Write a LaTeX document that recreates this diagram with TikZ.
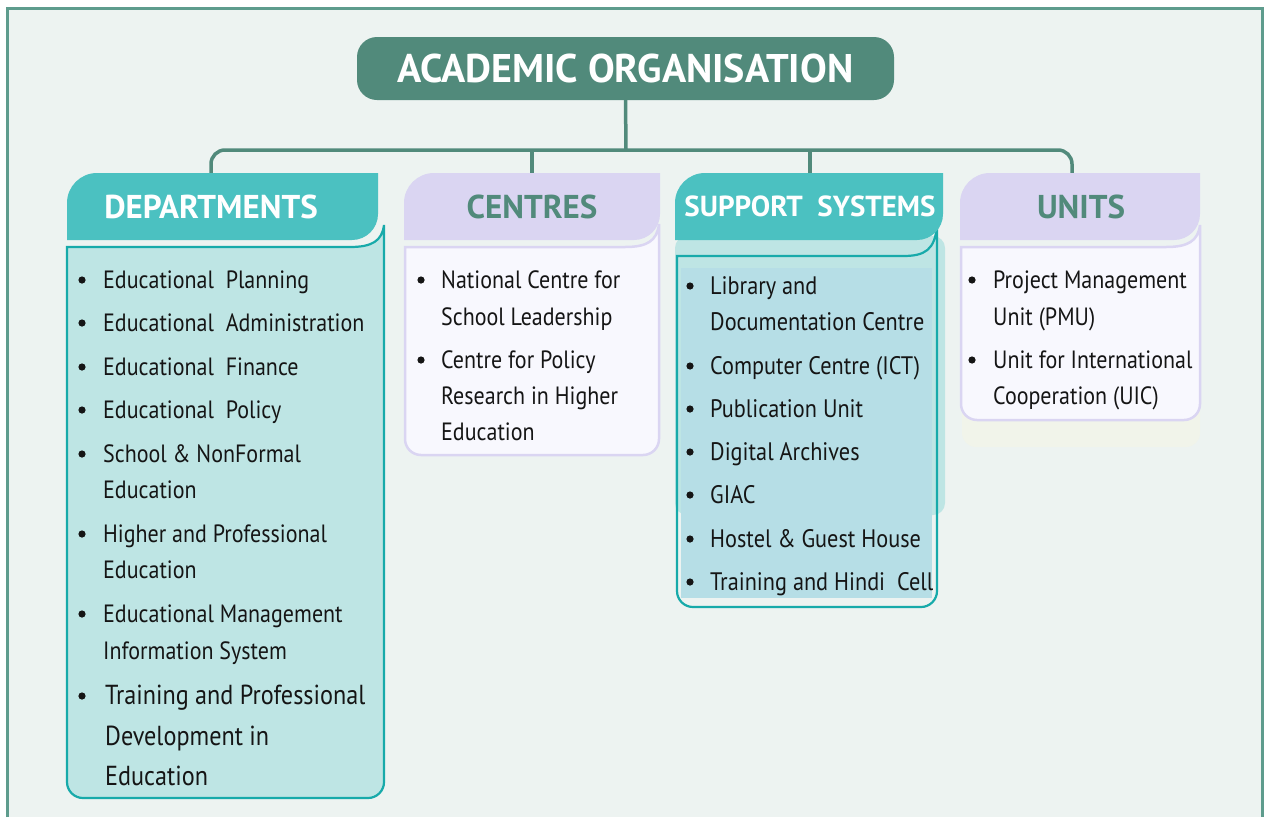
\documentclass[tikz,border=0pt]{standalone}
\usepackage{fontspec}
\setmainfont[FakeStretch=0.88]{PT Sans}
\newfontfamily\hdrfont{PT Sans}
\definecolor{bgc}{HTML}{EDF3F1}
\definecolor{framec}{HTML}{5E9C8D}
\definecolor{titlec}{HTML}{518A7B}
\definecolor{tealc}{HTML}{4BC1C1}
\definecolor{deptfill}{HTML}{BEE5E4}
\definecolor{deptline}{HTML}{17AAAA}
\definecolor{lavc}{HTML}{DAD5F2}
\definecolor{lightc}{HTML}{F8F8FE}
\definecolor{suppfill}{HTML}{B6DEE6}
\definecolor{shadowc}{HTML}{F1F4EA}
\definecolor{txtc}{HTML}{151515}
\newcommand\hdrshape[5]{%
  \fill[#5] (#1,#4) -- (#1,#2+30) arc[start angle=180,end angle=270,radius=30] -- (#3,#2) -- (#3,#4-26) arc[start angle=0,end angle=90,radius=26] -- cycle;}
\newcommand\bodyshape[6]{%
  \path[#6] (#1,#2) -- (#3-34,#2) .. controls (#3-12,#2) and (#3-2,#2-6) .. (#3,#5) -- (#3,#4-16) arc[start angle=0,end angle=90,radius=16] -- (#1+16,#4) arc[start angle=90,end angle=180,radius=16] -- cycle;}
\newcommand\itm[6]{%
  \fill[txtc] (#2,#4+1) circle (3.6);
  \node[itemtxt,#5] (#1) at (#3,#4+9) {#6};}
\newcommand\cnt[5]{%
  \node[itemtxt,#4] (#1) at (#2,#3+9) {#5};}
\begin{document}
\begin{tikzpicture}[x=1pt,y=-1pt,
  titlebox/.style={fill=titlec, rounded corners=20, minimum width=537, minimum height=63, inner sep=0, text=white, font=\hdrfont\fontsize{40}{40}\selectfont\bfseries},
  hdrtxt/.style={inner sep=0, minimum height=67, font=\hdrfont\fontsize{33}{33}\selectfont\bfseries},
  conn/.style={draw=titlec, line width=3.5},
  itemtxt/.style={anchor=base west, inner sep=0, text=txtc, font=\fontsize{25}{25}\selectfont},
  big/.style={font=\fontsize{27.5}{27.5}\selectfont},
  mid/.style={font=\fontsize{25.3}{25.3}\selectfont}]
\useasboundingbox (0,0) rectangle (1268,817);
\fill[white] (0,0) rectangle (1268,817);
\fill[bgc] (7,8) rectangle (1262,817);
\draw[framec, line width=3] (7,817) -- (7,8) -- (1262,8) -- (1262,817);
% title
\node[titlebox] (title) at (625.5,68.5) {ACADEMIC ORGANISATION};
% bodies
\bodyshape{67}{247}{384}{798}{225}{fill=deptfill, draw=deptline, line width=2.2}
\bodyshape{405}{247}{659}{455}{224}{fill=lightc, draw=lavc, line width=2.5}
\fill[deptfill, rounded corners=12] (675,236) rectangle (945,515);
\bodyshape{677}{256}{937}{607}{225}{draw=deptline, line width=2.2}
\fill[suppfill] (681,268) rectangle (932,598);
\fill[shadowc, rounded corners=14] (962,250) rectangle (1200,447);
\bodyshape{961}{247}{1200}{420}{225}{fill=lightc, draw=lavc, line width=2.5}
% headers
\hdrshape{67}{173}{378}{240}{tealc}
\hdrshape{404}{173}{660}{240}{lavc}
\hdrshape{675}{173}{943}{240}{tealc}
\hdrshape{960}{173}{1200}{240}{lavc}
\node[hdrtxt, text=white, minimum width=311] (dep) at (211,206.5) {DEPARTMENTS};
\node[hdrtxt, text=titlec, minimum width=256] (cen) at (532,206.5) {CENTRES};
\node[hdrtxt, text=white, minimum width=268, font=\hdrfont\fontsize{29}{29}\selectfont\bfseries] (sup) at (810,206.5) {SUPPORT\ \ SYSTEMS};
\node[hdrtxt, text=titlec, minimum width=240] (uni) at (1081,206.5) {UNITS};
% connectors
\coordinate (bus) at (626,150);
\draw[conn] (title.south) -- (bus);
\draw[conn, rounded corners=14] (dep.north) |- (bus) -| ([xshift=-9]uni.north);
\draw[conn] (cen.north) -- (cen.north |- bus);
\draw[conn] (sup.north) -- (sup.north |- bus);
% departments
\itm{d1}{82}{103}{279}{}{Educational\ \ Planning}
\itm{d2}{82}{103}{322}{}{Educational\ \ Administration}
\itm{d3}{82}{103}{366}{}{Educational\ \ Finance}
\itm{d4}{82}{103}{409}{}{Educational\ \ Policy}
\itm{d5}{82}{103}{453}{}{School \& NonFormal}
\cnt{d5b}{103}{489}{}{Education}
\itm{d6}{82}{103}{533}{}{Higher and Professional}
\cnt{d6b}{103}{569}{}{Education}
\itm{d7}{82}{103}{613}{}{Educational Management}
\cnt{d7b}{103}{650}{}{Information System}
\itm{d8}{82}{105}{695}{big}{Training and Professional}
\cnt{d8b}{105}{736}{big}{Development in}
\cnt{d8c}{105}{776}{big}{Education}
% centres
\itm{c1}{421}{441}{279}{}{National Centre for}
\cnt{c1b}{441}{316}{}{School Leadership}
\itm{c2}{421}{441}{359}{}{Centre for Policy}
\cnt{c2b}{441}{395}{}{Research in Higher}
\cnt{c2c}{441}{431}{}{Education}
% support systems
\itm{s1}{690}{710}{285}{mid}{Library and}
\cnt{s1b}{710}{321}{mid}{Documentation Centre}
\itm{s2}{690}{710}{365}{mid}{Computer Centre (ICT)}
\itm{s3}{690}{710}{408}{mid}{Publication Unit}
\itm{s4}{690}{710}{451}{mid}{Digital Archives}
\itm{s5}{690}{710}{494}{mid}{GIAC}
\itm{s6}{690}{710}{538}{mid}{Hostel \& Guest House}
\itm{s7}{690}{710}{581}{mid}{Training and Hindi\ \ Cell}
% units
\itm{u1}{972}{993}{279}{}{Project Management}
\cnt{u1b}{993}{316}{}{Unit (PMU)}
\itm{u2}{972}{993}{359}{}{Unit for International}
\cnt{u2b}{993}{395}{}{Cooperation (UIC)}
\end{tikzpicture}
\end{document}
